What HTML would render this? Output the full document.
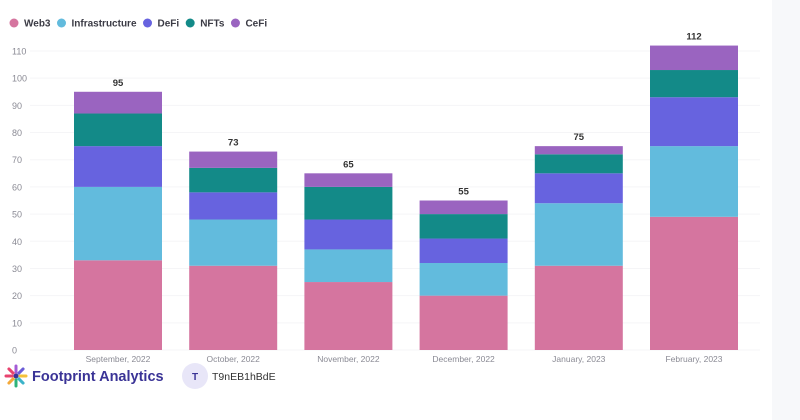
<!DOCTYPE html>
<html><head><meta charset="utf-8"><style>
html,body{margin:0;padding:0;background:#fff;width:800px;height:420px;overflow:hidden;font-family:"Liberation Sans",sans-serif}
#strip{position:absolute;left:772px;top:0;width:28px;height:420px;background:#f7f8fa}
</style></head><body>
<div id="strip"></div>
<svg id="c" width="800" height="420" style="position:absolute;left:0;top:0"></svg>
<script>
const categories=["September, 2022","October, 2022","November, 2022","December, 2022","January, 2023","February, 2023"];
const seriesNames=["Web3","Infrastructure","DeFi","NFTs","CeFi"];
const web3=[33,31,25,20,31,49];
const infra=[27,17,12,12,23,26];
const defi=[15,10,11,9,11,18];
const nfts=[12,9,12,9,7,10];
const cefi=[8,6,5,5,3,9];
const yTicks=[0,10,20,30,40,50,60,70,80,90,100,110];
const colors=["#d5759f","#62bbdd","#6763df","#138a88","#9a64c0"];
const series=[web3,infra,defi,nfts,cefi];
const svg=document.getElementById('c');const NS="http://www.w3.org/2000/svg";
function mk(t,a,p){const e=document.createElementNS(NS,t);for(const k in a)e.setAttribute(k,a[k]);(p||svg).appendChild(e);return e;}
const y0=350,y1=51,x0=60.4,band=115.2,bw=88;
function y(v){return y0-(v/110)*(y0-y1);}
function xc(i){return x0+band*(i+0.5);}
let lx=14;
seriesNames.forEach((n,i)=>{
 const g=mk('g',{});
 
 
 mk('circle',{cx:lx,cy:23,r:4.5,fill:colors[i]},g);
 const t=mk('text',{x:lx+10,y:26.5,'font-size':10,'font-weight':'bold',fill:'#3b3b45'},g);t.textContent=n;
 lx+=10+t.getComputedTextLength()+11;
});
yTicks.forEach(v=>{
 const l=mk('line',{x1:30,x2:760,y1:y(v),y2:y(v),stroke:'#f5f5f7','stroke-width':1});
 
 
 const t=mk('text',{x:12,y:y(v)+3.5,'font-size':9,fill:'#8a8a94'});t.textContent=v;
 
 
});
categories.forEach((c,i)=>{
 let acc=0;const left=xc(i)-bw/2;
 series.forEach((s,k)=>{
  const r=mk('rect',{x:left,y:y(acc+s[i]),width:bw,height:y(acc)-y(acc+s[i]),fill:colors[k]});
  
  
  acc+=s[i];
 });
 const tt=mk('text',{x:xc(i),y:y(acc)-6,'font-size':9.5,'font-weight':'bold',fill:'#333','text-anchor':'middle'});tt.textContent=acc;
 
 
 const xl=mk('text',{x:xc(i),y:362,'font-size':8.5,fill:'#8a8a94','text-anchor':'middle'});xl.textContent=c;
 
 
});
const lg=mk('g',{});


const lc=["#f4c23a","#3bb3c9","#2fb37a","#f4a93a","#e8436f","#e8436f","#a45cd6","#6a5cd6"];
for(let k=0;k<8;k++){const a=k*Math.PI/4;mk('line',{x1:16+4*Math.cos(a),y1:376+4*Math.sin(a),x2:16+10*Math.cos(a),y2:376+10*Math.sin(a),stroke:lc[k],'stroke-width':3,'stroke-linecap':'round'},lg);}
mk('circle',{cx:16,cy:376,r:2.5,fill:'#3a3396'},lg);
const ft=mk('text',{x:32,y:381,'font-size':14.5,'font-weight':'bold',fill:'#3a3396'});ft.textContent="Footprint Analytics";


const av=mk('circle',{cx:195,cy:376,r:13,fill:'#e8e6f8'});


const at=mk('text',{x:195,y:380,'font-size':10,'font-weight':'bold',fill:'#3a3396','text-anchor':'middle'});at.textContent="T";
const un=mk('text',{x:212,y:380,'font-size':10.5,fill:'#333'});un.textContent="T9nEB1hBdE";


</script>
</body></html>
